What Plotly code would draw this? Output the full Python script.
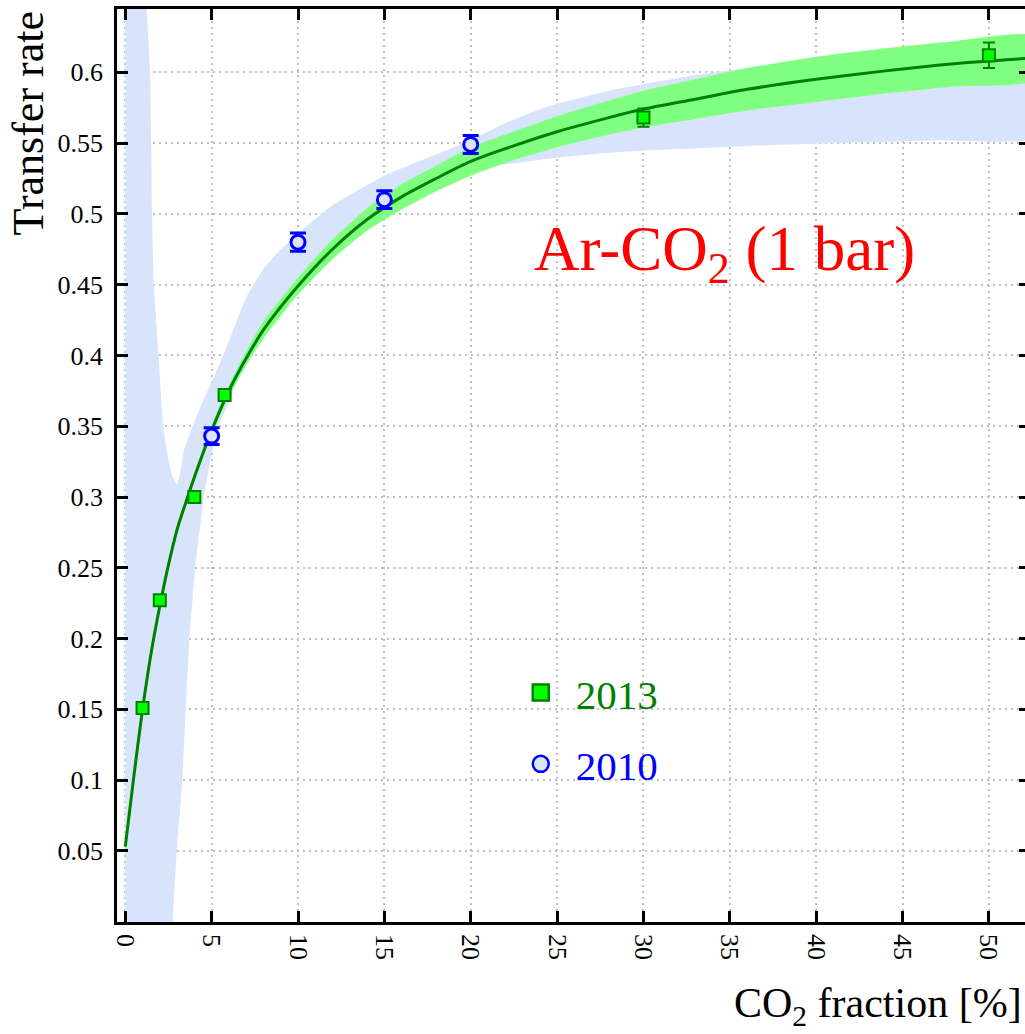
import plotly.graph_objects as go

# ---- measured transfer rates ----
x_2013 = [1, 2, 4, 5.75, 30, 50]
y_2013 = [0.151, 0.227, 0.300, 0.372, 0.568, 0.612]
err_2013 = [0.003, 0.003, 0.003, 0.003, 0.0065, 0.009]

x_2010 = [5, 10, 15, 20]
y_2010 = [0.343, 0.480, 0.510, 0.549]
err_2010 = [0.006, 0.0065, 0.0063, 0.0064]

# ---- fit to the 2013 data with its confidence band ----
fit_x = [0, 0.5, 1, 1.5, 2, 2.5, 3, 3.5, 4, 5, 6, 7, 8, 10, 12, 14, 16, 18,
         20, 22, 25, 28, 30, 33, 36, 40, 44, 48, 52.5]
fit_y = [0.053, 0.103, 0.150, 0.190, 0.223, 0.252, 0.277, 0.296, 0.314, 0.347,
         0.375, 0.398, 0.418, 0.449, 0.475, 0.496, 0.512, 0.525, 0.537, 0.546,
         0.558, 0.568, 0.574, 0.581, 0.588, 0.595, 0.601, 0.606, 0.610]
fit_lo = [0.044, 0.097, 0.146, 0.186, 0.220, 0.249, 0.274, 0.293, 0.311, 0.343,
          0.371, 0.393, 0.412, 0.443, 0.468, 0.488, 0.503, 0.516, 0.527, 0.536,
          0.547, 0.556, 0.561, 0.567, 0.573, 0.579, 0.585, 0.590, 0.594]
fit_hi = [0.060, 0.109, 0.154, 0.194, 0.226, 0.255, 0.280, 0.299, 0.317, 0.351,
          0.379, 0.403, 0.424, 0.455, 0.482, 0.504, 0.521, 0.534, 0.547, 0.556,
          0.569, 0.580, 0.587, 0.595, 0.603, 0.611, 0.617, 0.622, 0.626]

# ---- confidence band of the 2010 fit ----
band10_up_x = [0, 1.1, 1.25, 1.44, 1.50, 1.55, 1.65, 1.93, 2.2, 2.5, 2.75, 3.0,
               3.2, 3.4, 4.0, 4.5, 5.0, 5.5, 6.0, 7.0, 8.0, 9.0, 10, 12, 15,
               18, 20, 22, 24.5, 28, 32, 36, 40, 45, 52.5]
band10_up_y = [2.0, 1.0, 0.645, 0.600, 0.550, 0.500, 0.450, 0.400, 0.350, 0.326,
               0.314, 0.309, 0.318, 0.333, 0.353, 0.368, 0.381, 0.395, 0.410,
               0.441, 0.461, 0.475, 0.486, 0.506, 0.527, 0.542, 0.552, 0.564,
               0.576, 0.587, 0.596, 0.603, 0.609, 0.616, 0.623]
band10_lo_x = [0, 2.3, 2.6, 2.75, 2.98, 3.3, 3.5, 3.72, 4.05, 4.55, 4.9, 5.36,
               6.0, 6.5, 7.0, 8.0, 10, 12, 14, 16, 18, 20.6, 24.5, 29, 36, 41.3,
               47, 52.5]
band10_lo_y = [-1.0, -0.2, -0.04, 0.0, 0.05, 0.10, 0.15, 0.20, 0.25, 0.30, 0.324,
               0.350, 0.366, 0.382, 0.394, 0.415, 0.446, 0.472, 0.492, 0.508,
               0.520, 0.532, 0.539, 0.544, 0.548, 0.550, 0.552, 0.554]

# ---- axis ticks ----
x_ticks = [0, 5, 10, 15, 20, 25, 30, 35, 40, 45, 50]
x_ticktext = ["0", "5", "10", "15", "20", "25", "30", "35", "40", "45", "50"]
y_ticks = [0.05, 0.1, 0.15, 0.2, 0.25, 0.3, 0.35, 0.4, 0.45, 0.5, 0.55, 0.6]
y_ticktext = ["0.05", "0.1", "0.15", "0.2", "0.25", "0.3", "0.35", "0.4",
              "0.45", "0.5", "0.55", "0.6"]

SERIF = "Liberation Serif"
BLUE_BAND = "rgb(215,228,252)"
GREEN_BAND = "rgb(128,255,128)"
DARK_GREEN = "rgb(0,128,0)"
BLUE = "rgb(0,0,255)"
LIME = "rgb(0,255,0)"
CIRCLE_FILL = "rgb(218,228,250)"

fig = go.Figure()

# 2010 band (closed polygon: upper edge forward, lower edge back)
fig.add_trace(go.Scatter(
    x=band10_up_x + band10_lo_x[::-1],
    y=band10_up_y + band10_lo_y[::-1],
    fill="toself", fillcolor=BLUE_BAND,
    line=dict(width=0, shape="spline", smoothing=0.5),
    mode="lines", hoverinfo="skip", showlegend=False,
))

# 2013 band
fig.add_trace(go.Scatter(
    x=fit_x + fit_x[::-1],
    y=fit_hi + fit_lo[::-1],
    fill="toself", fillcolor=GREEN_BAND,
    line=dict(width=0, shape="spline", smoothing=0.5),
    mode="lines", hoverinfo="skip", showlegend=False,
))

# fitted curve
fig.add_trace(go.Scatter(
    x=fit_x, y=fit_y, mode="lines",
    line=dict(color=DARK_GREEN, width=3, shape="spline", smoothing=0.8),
    hoverinfo="skip", showlegend=False,
))

# data points
fig.add_trace(go.Scatter(
    x=x_2013, y=y_2013, mode="markers", showlegend=False,
    marker=dict(symbol="square", size=12, color=LIME,
                line=dict(color=DARK_GREEN, width=2)),
    error_y=dict(type="data", array=err_2013, color=DARK_GREEN,
                 thickness=2, width=6),
))
fig.add_trace(go.Scatter(
    x=x_2010, y=y_2010, mode="markers", showlegend=False,
    marker=dict(symbol="circle", size=14, color=CIRCLE_FILL,
                line=dict(color=BLUE, width=3)),
    error_y=dict(type="data", array=err_2010, color=BLUE,
                 thickness=3, width=8),
))

# legend entries (larger symbols than the data markers)
fig.add_trace(go.Scatter(
    x=[None], y=[None], mode="markers", legendgroup="a",
    name="<span style='color:rgb(0,128,0)'>2013</span>",
    marker=dict(symbol="square", size=16, color=LIME,
                line=dict(color=DARK_GREEN, width=2.5)),
))
fig.add_trace(go.Scatter(
    x=[None], y=[None], mode="markers", legendgroup="b",
    name="<span style='color:rgb(0,0,255)'>2010</span>",
    marker=dict(symbol="circle", size=16, color=CIRCLE_FILL,
                line=dict(color=BLUE, width=2.5)),
))

axis_common = dict(
    showline=True, linecolor="black", linewidth=2.5,
    ticks="inside", ticklen=11, tickwidth=2.5, tickcolor="black",
    mirror="ticks",
    showgrid=True, gridcolor="rgb(192,192,192)", gridwidth=1.5,
    griddash="2px,4px",
    zeroline=False,
    tickfont=dict(family=SERIF, size=26, color="black"),
)

fig.update_xaxes(
    range=[-0.479, 52.38], tickmode="array", tickvals=x_ticks,
    ticktext=x_ticktext, tickangle=90, ticklabelstandoff=4, **axis_common,
)
fig.update_yaxes(
    range=[-0.0002, 0.6447], tickmode="array", tickvals=y_ticks,
    ticktext=y_ticktext, ticklabelstandoff=6, **axis_common,
)

fig.add_annotation(
    text="Transfer rate", textangle=-90, showarrow=False,
    xref="paper", yref="paper", x=-0.097, y=1.0,
    xanchor="center", yanchor="top",
    font=dict(family=SERIF, size=44, color="black"),
)
fig.add_annotation(
    text="CO<sub>2</sub> fraction [%]", showarrow=False,
    xref="paper", yref="paper", x=0.993, y=-0.092,
    xanchor="right", yanchor="middle",
    font=dict(family=SERIF, size=42, color="black"),
)
fig.add_annotation(
    text="Ar-CO<sub>2</sub> (1 bar)", showarrow=False,
    xref="paper", yref="paper", x=0.4545, y=0.732,
    xanchor="left", yanchor="middle",
    font=dict(family=SERIF, size=63, color="rgb(255,0,0)"),
)

fig.update_layout(
    width=1033, height=1034,
    margin=dict(l=117, r=0, t=9, b=112),
    paper_bgcolor="white", plot_bgcolor="white",
    font=dict(family=SERIF, color="black"),
    showlegend=True,
    legend=dict(
        x=0.4258, y=0.2876, xanchor="left", yanchor="top",
        font=dict(family=SERIF, size=41),
        bgcolor="rgba(0,0,0,0)", itemwidth=60,
        traceorder="grouped", tracegroupgap=15,
    ),
)

fig.write_html(
    "out.html",
    post_script="document.documentElement.style.overflow='hidden';"
                "document.body.style.overflow='hidden';",
)
